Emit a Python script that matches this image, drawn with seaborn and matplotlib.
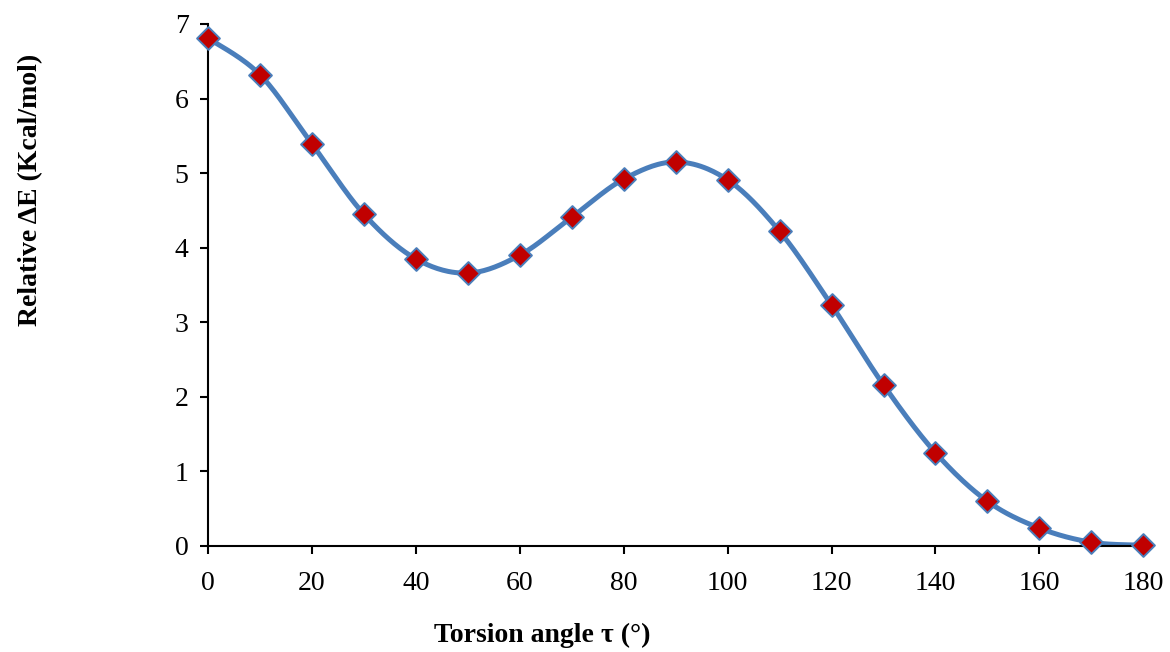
import numpy as np
import pandas as pd
import matplotlib
matplotlib.use("Agg")
import matplotlib.pyplot as plt
import seaborn as sns

# Relative energy scan along the torsion angle
angle = [0, 10, 20, 30, 40, 50, 60, 70, 80, 90, 100, 110, 120, 130, 140, 150, 160, 170, 180]
energy = [6.81, 6.32, 5.39, 4.45, 3.85, 3.66, 3.90, 4.41, 4.92, 5.15, 4.91, 4.22, 3.23, 2.16, 1.25, 0.60, 0.24, 0.05, 0.01]
x_ticks = [0, 20, 40, 60, 80, 100, 120, 140, 160, 180]
y_ticks = [0, 1, 2, 3, 4, 5, 6, 7]

sns.set_style("white")
plt.rcParams["font.family"] = ["Liberation Serif", "DejaVu Serif"]
plt.rcParams["text.color"] = "black"
plt.rcParams["axes.labelcolor"] = "black"


def smooth_curve(x, y, n=30):
    """Cardinal (Catmull-Rom) Bezier smoothing through every point."""
    x = np.asarray(x, float)
    y = np.asarray(y, float)
    px = np.concatenate([[x[0]], x, [x[-1]]])
    py = np.concatenate([[y[0]], y, [y[-1]]])
    xs, ys = [], []
    t = np.linspace(0, 1, n)
    for i in range(1, len(px) - 2):
        p0 = np.array([px[i], py[i]])
        p3 = np.array([px[i + 1], py[i + 1]])
        c1 = p0 + (np.array([px[i + 1], py[i + 1]]) - np.array([px[i - 1], py[i - 1]])) / 6
        c2 = p3 - (np.array([px[i + 2], py[i + 2]]) - np.array([px[i], py[i]])) / 6
        b = ((1 - t) ** 3)[:, None] * p0 + (3 * (1 - t) ** 2 * t)[:, None] * c1 \
            + (3 * (1 - t) * t ** 2)[:, None] * c2 + (t ** 3)[:, None] * p3
        xs.extend(b[:, 0])
        ys.extend(b[:, 1])
    return np.array(xs), np.array(ys)


sx, sy = smooth_curve(angle, energy)
curve = pd.DataFrame({"angle": sx, "energy": sy})
points = pd.DataFrame({"angle": angle, "energy": energy})

fig = plt.figure(figsize=(11.7, 6.52), dpi=100)
ax = fig.add_axes([0.1778, 0.1626, 0.7994, 0.8006])

sns.lineplot(data=curve, x="angle", y="energy", ax=ax, color="#4a7ebb",
             linewidth=3.6, sort=False, zorder=2)
sns.scatterplot(data=points, x="angle", y="energy", ax=ax, marker="D",
                s=135, color="#c00000", edgecolor="#4a7ebb", linewidth=1.4,
                zorder=3, clip_on=False)

ax.set_xlim(0, 180)
ax.set_ylim(0, 7)
ax.set_xticks(x_ticks)
ax.set_yticks(y_ticks)
ax.tick_params(axis="both", direction="out", length=6, width=1.5,
               labelsize=20, color="black", labelcolor="black",
               bottom=True, left=True)
ax.tick_params(axis="x", pad=12)
ax.tick_params(axis="y", pad=8)
for side in ("top", "right"):
    ax.spines[side].set_visible(False)
for side in ("left", "bottom"):
    ax.spines[side].set_color("black")
    ax.spines[side].set_linewidth(1.5)

ax.set_xlabel("Torsion angle τ (°)", fontsize=20, fontweight="bold", color="black")
ax.set_ylabel("Relative ΔE (Kcal/mol)", fontsize=20, fontweight="bold", color="black")
ax.xaxis.set_label_coords(0.357, -0.172)
ax.xaxis.label.set_va("center")
ax.yaxis.set_label_coords(-0.190, 0.682)
ax.yaxis.label.set_va("center")

fig.savefig("out.png", dpi=100, facecolor="white")
